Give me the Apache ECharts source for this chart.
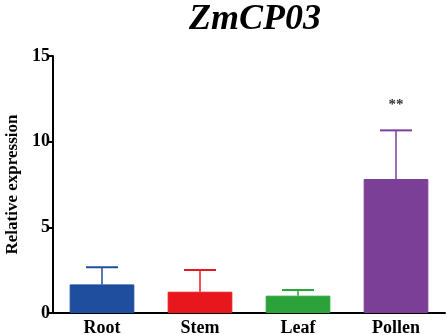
<!DOCTYPE html>
<html>
<head>
<meta charset="utf-8">
<script src="https://cdn.jsdelivr.net/npm/echarts@6/dist/echarts.min.js"></script>
<style>
  html, body { margin: 0; padding: 0; background: #fff; }
  #chart { width: 447px; height: 335px; }
</style>
</head>
<body>
<div id="chart"></div>
<script>
// 数据
const tissues = ['Root', 'Stem', 'Leaf', 'Pollen'];
const meanValues = [1.67, 1.24, 1.01, 7.82];
const errValues = [1.0, 1.27, 0.33, 2.84];
const signif = ['', '', '', '**'];
const barColors = ['#1f4e9f', '#e8161d', '#2ba33a', '#7b3f98'];
const yTicks = [0, 5, 10, 15];

const font = 'Liberation Serif, Times New Roman, serif';
const chart = echarts.init(document.getElementById('chart'));

const option = {
  animation: false,
  title: {
    text: 'ZmCP03',
    left: 250,
    textAlign: 'center',
    top: -3,
    textStyle: { fontFamily: font, fontSize: 36, fontWeight: 'bold', fontStyle: 'italic', color: '#000' }
  },
  grid: { left: 53, right: 2, top: 56, bottom: 22, outerBoundsMode: 'none', containLabel: false },
  xAxis: {
    type: 'category',
    data: tissues,
    axisLine: { lineStyle: { color: '#000', width: 2 } },
    axisTick: { inside: true, length: 6, alignWithLabel: true, lineStyle: { color: '#000', width: 2 } },
    axisLabel: { color: '#000', fontFamily: font, fontSize: 18, fontWeight: 'bold', margin: 6 }
  },
  yAxis: {
    type: 'value',
    min: yTicks[0],
    max: yTicks[yTicks.length - 1],
    interval: 5,
    name: 'Relative expression',
    nameLocation: 'middle',
    nameGap: 31,
    nameTextStyle: { color: '#000', fontFamily: font, fontSize: 17, fontWeight: 'bold' },
    axisLine: { show: true, lineStyle: { color: '#000', width: 2 } },
    axisTick: { show: true, length: 6, lineStyle: { color: '#000', width: 2 } },
    axisLabel: { color: '#000', fontFamily: font, fontSize: 18, fontWeight: 'bold', margin: 3 },
    splitLine: { show: false }
  },
  series: [
    {
      type: 'bar',
      barWidth: '66%',
      data: meanValues.map((v, i) => ({
        value: v,
        itemStyle: { color: barColors[i], borderColor: barColors[i], borderWidth: 1 }
      })),
      z: 2
    },
    {
      // 误差线 + 显著性标记
      type: 'custom',
      z: 3,
      data: meanValues.map((v, i) => [i, v, v + errValues[i]]),
      renderItem: function (params, api) {
        const i = api.value(0);
        const base = api.coord([i, api.value(1)]);
        const top = api.coord([i, api.value(2)]);
        const half = 16;
        const color = barColors[i];
        const children = [
          { type: 'line', shape: { x1: base[0], y1: base[1], x2: top[0], y2: top[1] }, style: { stroke: color, lineWidth: 1.5 } },
          { type: 'line', shape: { x1: top[0] - half, y1: top[1], x2: top[0] + half, y2: top[1] }, style: { stroke: color, lineWidth: 2 } }
        ];
        if (signif[i]) {
          children.push({
            type: 'text',
            style: { text: signif[i], x: top[0], y: top[1] - 25, align: 'center', verticalAlign: 'middle', fill: '#333', font: 'bold 15px ' + font }
          });
        }
        return { type: 'group', children: children };
      }
    }
  ]
};
chart.setOption(option);
</script>
</body>
</html>
